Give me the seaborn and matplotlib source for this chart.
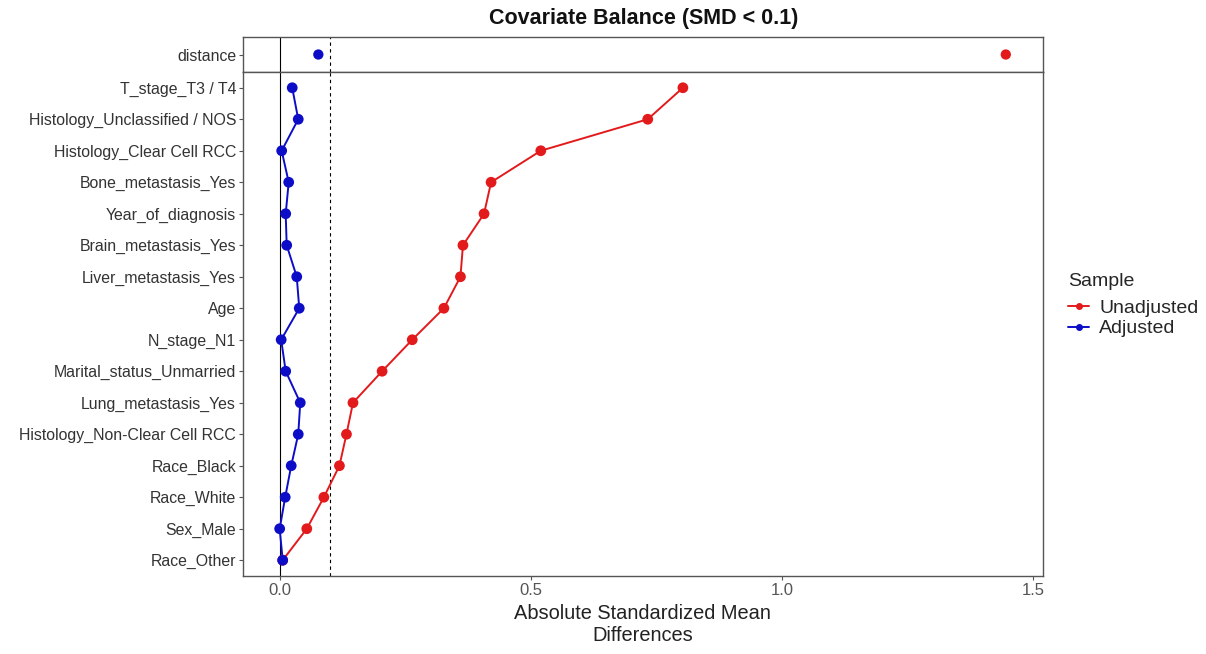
#!/usr/bin/env python3
"""
Love plot: covariate balance before/after matching (absolute SMD).
"""

import pandas as pd
import matplotlib
matplotlib.use('Agg')
import matplotlib.pyplot as plt
from matplotlib.lines import Line2D
import seaborn as sns

# Data
distance_unadjusted = 1.446
distance_adjusted = 0.077

covariates = [
    'T_stage_T3 / T4', 'Histology_Unclassified / NOS', 'Histology_Clear Cell RCC',
    'Bone_metastasis_Yes', 'Year_of_diagnosis', 'Brain_metastasis_Yes',
    'Liver_metastasis_Yes', 'Age', 'N_stage_N1', 'Marital_status_Unmarried',
    'Lung_metastasis_Yes', 'Histology_Non-Clear Cell RCC', 'Race_Black',
    'Race_White', 'Sex_Male', 'Race_Other',
]
unadjusted = [0.803, 0.733, 0.520, 0.421, 0.407, 0.365, 0.360, 0.327,
              0.264, 0.204, 0.146, 0.133, 0.119, 0.088, 0.054, 0.006]
adjusted = [0.025, 0.037, 0.004, 0.018, 0.012, 0.014, 0.034, 0.039,
            0.003, 0.012, 0.041, 0.037, 0.023, 0.011, 0.000, 0.006]

samples = ['Unadjusted', 'Adjusted']
colors = {'Unadjusted': '#e31a1c', 'Adjusted': '#0d0dc8'}

sns.set_style('white')
plt.rcParams['font.family'] = ['Liberation Sans', 'DejaVu Sans']

# Long-form frames
df = pd.DataFrame({
    'covariate': covariates * 2,
    'pos': list(range(len(covariates))) * 2,
    'smd': unadjusted + adjusted,
    'sample': ['Unadjusted'] * len(covariates) + ['Adjusted'] * len(covariates),
})
df_dist = pd.DataFrame({
    'covariate': ['distance', 'distance'],
    'pos': [0, 0],
    'smd': [distance_unadjusted, distance_adjusted],
    'sample': samples,
})

fig = plt.figure(figsize=(12.06, 6.54), dpi=100)
ax_top = fig.add_axes([0.2015, 0.8899, 0.6633, 0.0535])
ax = fig.add_axes([0.2015, 0.1193, 0.6633, 0.7706], sharex=ax_top)

# Top facet: distance only
sns.scatterplot(data=df_dist, x='smd', y='pos', hue='sample', palette=colors,
                s=55, linewidth=0, legend=False, ax=ax_top, zorder=3)
ax_top.set_ylim(-0.5, 0.5)
ax_top.set_yticks([0])
ax_top.set_yticklabels(['distance'])

# Bottom facet: covariates
sns.lineplot(data=df, x='smd', y='pos', hue='sample', palette=colors,
             orient='y', sort=False, linewidth=1.4, legend=False, ax=ax, zorder=2)
sns.scatterplot(data=df, x='smd', y='pos', hue='sample', palette=colors,
                s=60, linewidth=0, legend=False, ax=ax, zorder=3)
ax.set_ylim(len(covariates) - 0.5, -0.5)
ax.set_yticks(range(len(covariates)))
ax.set_yticklabels(covariates)

ax.set_xlim(-0.073, 1.52)
ax.set_xticks([0.0, 0.5, 1.0, 1.5])
ax.set_xticklabels(['0.0', '0.5', '1.0', '1.5'])

for a in (ax_top, ax):
    a.axvline(0, color='black', linewidth=0.8, zorder=1)
    a.axvline(0.1, color='black', linewidth=0.8, linestyle=(0, (3, 3)), zorder=1)
    a.set_xlabel('')
    a.set_ylabel('')
    for s in a.spines.values():
        s.set_color('#555555')
        s.set_linewidth(1.0)
    a.tick_params(axis='y', length=3, width=0.8, color='#555555',
                  labelsize=11.4, labelcolor='#333333', pad=2)
    a.tick_params(axis='x', length=3, width=0.8, color='#555555',
                  labelsize=12, labelcolor='#555555', pad=2)
    a.tick_params(left=True, bottom=True)
ax_top.tick_params(axis='x', bottom=False, labelbottom=False)

fig.text(0.534, 0.972, 'Covariate Balance (SMD < 0.1)', ha='center', va='center',
         fontsize=15.5, fontweight='bold', color='#111111')
fig.text(0.533, 0.045, 'Absolute Standardized Mean\nDifferences', ha='center',
         va='center', fontsize=14.4, linespacing=1.15, color='#222222')

handles = [Line2D([0], [0], color=colors[s], marker='o', markersize=4,
                  linewidth=1.4, label=s) for s in samples]
leg = fig.legend(handles=handles, title='Sample', loc='upper left',
                 bbox_to_anchor=(0.871, 0.61), frameon=False, fontsize=14,
                 title_fontsize=14, handlelength=1.1, handletextpad=0.5,
                 labelspacing=0.15)
leg._legend_box.align = 'left'
leg._legend_box.sep = 7

fig.savefig('out.png', dpi=100)
